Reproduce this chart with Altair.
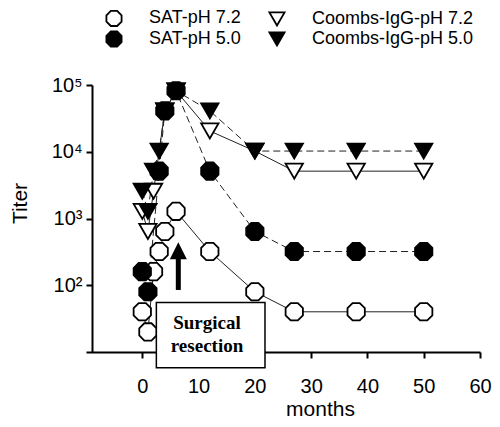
import altair as alt
import pandas as pd

# ---- data ----
series_names = ["SAT-pH 7.2", "SAT-pH 5.0", "Coombs-IgG-pH 7.2", "Coombs-IgG-pH 5.0"]

months_sat72 = [0, 1, 2, 3, 4, 6, 12, 20, 27, 38, 50]
titer_sat72 = [40, 20, 160, 320, 640, 1280, 320, 80, 40, 40, 40]

months_sat50 = [0, 1, 3, 4, 6, 12, 20, 27, 38, 50]
titer_sat50 = [160, 80, 5120, 40960, 81920, 5120, 640, 320, 320, 320]

months_c72 = [0, 1, 2, 4, 6, 12, 20, 27, 38, 50]
titer_c72 = [1280, 640, 2560, 40960, 81920, 20480, 10240, 5120, 5120, 5120]

months_c50 = [0, 1, 2, 3, 4, 6, 12, 20, 27, 38, 50]
titer_c50 = [2560, 1280, 5120, 10240, 40960, 81920, 40960, 10240, 10240, 10240, 10240]

x_ticks = [0, 10, 20, 30, 40, 50, 60]
y_tick_values = [100, 1000, 10000, 100000]
y_tick_labels = ["10²", "10³", "10⁴", "10⁵"]

annotation_lines = ["Surgical", "resection"]

# ---- build table ----
rows = []
for name, ms, ts, draw_order in zip(
        series_names,
        [months_sat72, months_sat50, months_c72, months_c50],
        [titer_sat72, titer_sat50, titer_c72, titer_c50],
        [0, 3, 1, 2]):
    for m, t in zip(ms, ts):
        rows.append({"series": name, "month": m, "titer": t, "ord": draw_order,
                     "dashed": name.endswith("5.0")})
df = pd.DataFrame(rows)

OCT = "M-0.414,-1L0.414,-1L1,-0.414L1,0.414L0.414,1L-0.414,1L-1,0.414L-1,-0.414Z"
ARROWHEAD = "M0,-1L1,1L-1,1Z"

label_expr = " : ".join(
    f"datum.value == {v} ? '{l}'" for v, l in zip(y_tick_values[:-1], y_tick_labels[:-1])
) + f" : '{y_tick_labels[-1]}'"

x_enc = alt.X("month:Q",
              scale=alt.Scale(domain=[-10, 60], nice=False, zero=False),
              axis=alt.Axis(title="months", values=x_ticks, labelPadding=18,
                            labelFlush=False,
                            titleFontSize=21, titleX=234, titleY=63,
                            titleBaseline="alphabetic", titleAlign="center"))
y_enc = alt.Y("titer:Q",
              scale=alt.Scale(type="log", domain=[10, 100000], nice=False),
              axis=alt.Axis(title="Titer", values=y_tick_values, labelExpr=label_expr,
                            offset=-6, labelPadding=4, titleFontSize=21,
                            titleAngle=270, titleX=-72, titleY=118,
                            titleAlign="center", titleBaseline="middle"))

base = alt.Chart(df).encode(x=x_enc, y=y_enc)

solid_lines = base.transform_filter("!datum.dashed").mark_line(
    color="#222", strokeWidth=1).encode(detail="series:N")
dashed_lines = base.transform_filter("datum.dashed").mark_line(
    color="#222", strokeWidth=1, strokeDash=[7, 4]).encode(detail="series:N")

legend = alt.Legend(title=None, orient="none", legendX=19, legendY=-76, columns=2,
                    columnPadding=24, rowPadding=-6, symbolSize=230,
                    symbolStrokeWidth=1.8, labelLimit=400,
                    labelFontSize=18, labelFont="Liberation Sans", labelColor="black",
                    labelOffset=26, padding=0)

points = base.mark_point(filled=True, strokeWidth=1.8, size=300,
                         opacity=1, fillOpacity=1).encode(
    shape=alt.Shape("series:N",
                    scale=alt.Scale(domain=series_names,
                                    range=[OCT, OCT, "triangle-down", "triangle-down"]),
                    legend=legend),
    fill=alt.Fill("series:N",
                  scale=alt.Scale(domain=series_names,
                                  range=["white", "black", "white", "black"]),
                  legend=legend),
    stroke=alt.Stroke("series:N",
                      scale=alt.Scale(domain=series_names,
                                      range=["black", "black", "black", "black"]),
                      legend=legend),
    order=alt.Order("ord:Q"),
)

# ---- annotation: arrow and box ----
arrow_shaft = alt.Chart(pd.DataFrame({"month": [6.4], "titer": [85], "titer2": [250]})).mark_rule(
    strokeWidth=5, color="black").encode(x="month:Q", y="titer:Q", y2="titer2:Q")
arrow_head = alt.Chart(pd.DataFrame({"month": [6.4], "titer": [330]})).mark_point(
    shape=ARROWHEAD, filled=True, color="black", size=289, opacity=1).encode(
    x="month:Q", y="titer:Q")

box = alt.Chart(pd.DataFrame({"month": [2.5], "month2": [21.8],
                              "titer": [55], "titer2": [5.8]})).mark_rect(
    fill="white", stroke="black", strokeWidth=1.5).encode(
    x="month:Q", x2="month2:Q", y="titer:Q", y2="titer2:Q")

box_text = alt.Chart(pd.DataFrame({"month": [11.5, 11.5], "titer": [27, 12.5],
                                   "label": annotation_lines})).mark_text(
    font="Liberation Serif", fontWeight="bold", fontSize=19, color="black",
    baseline="middle", align="center").encode(
    x="month:Q", y="titer:Q", text="label:N")

chart = alt.layer(solid_lines, dashed_lines, points, arrow_shaft, arrow_head,
                  box, box_text).properties(
    width=394, height=267,
    padding={"left": 78, "top": 77, "right": 12, "bottom": 67},
    autosize=alt.AutoSizeParams(type="none"),
).configure_view(stroke=None).configure_axis(
    grid=False, domainColor="black", domainWidth=2, tickColor="black", tickWidth=2,
    tickSize=6, labelFont="Liberation Sans", labelFontSize=20, labelColor="black",
    titleFont="Liberation Sans", titleColor="black", titleFontWeight="normal",
)

chart.save("out.html", embed_options={"renderer": "svg", "actions": False})
